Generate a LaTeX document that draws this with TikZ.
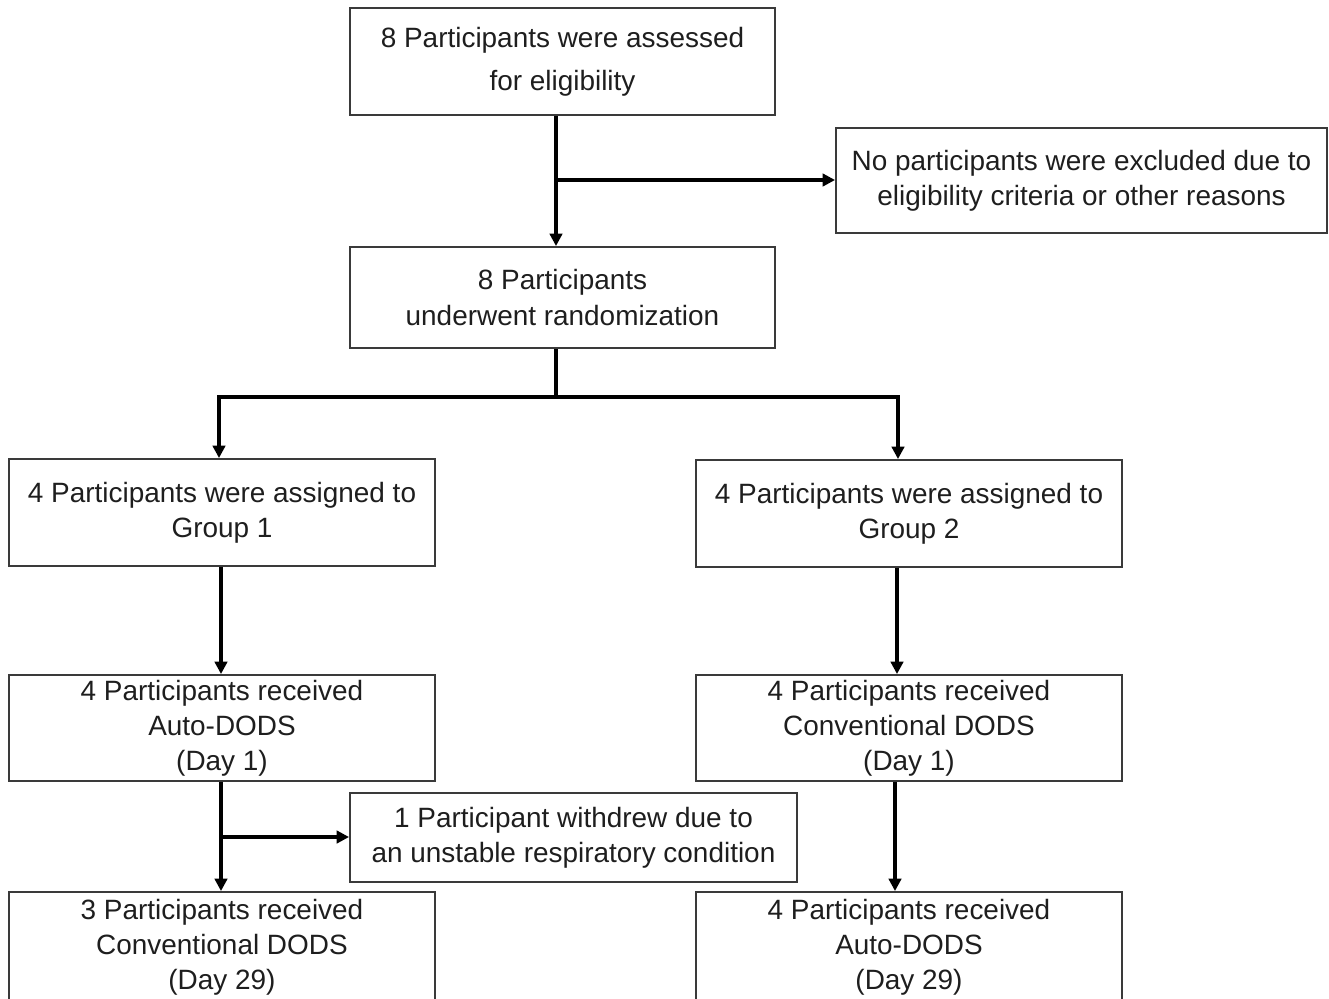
\documentclass[tikz,border=0pt]{standalone}
\usepackage{fontspec}
\setmainfont{Liberation Sans}
\usetikzlibrary{arrows.meta,calc}
\definecolor{boxline}{HTML}{3A3A3A}
\definecolor{txt}{HTML}{1E1E1E}
\tikzset{
  box/.style={draw=boxline, line width=1.1pt, rectangle, align=center, text=txt,
    inner sep=0pt, font=\fontsize{15.9pt}{20pt}\selectfont},
  conn/.style={line width=2.2pt, draw=black},
  arr/.style={conn, -{Triangle[length=7pt,width=7pt]}}
}
\begin{document}
\begin{tikzpicture}[x=0.02cm,y=-0.02cm]
\useasboundingbox (0,0) rectangle (1329,998);
\clip (0,0) rectangle (1329,998);
\node[box, minimum width=425*0.02cm, minimum height=107*0.02cm] (A) at (562.5,61.5)
  {8 Participants were assessed\\[4.5pt]for eligibility};
\node[box, minimum width=491*0.02cm, minimum height=105*0.02cm] (B) at (1081.5,180.5)
  {No participants were excluded due to\\eligibility criteria or other reasons};
\node[box, minimum width=425*0.02cm, minimum height=101*0.02cm] (C) at (562.5,297.5)
  {8 Participants\\underwent randomization};
\node[box, minimum width=426*0.02cm, minimum height=107*0.02cm] (D) at (222,512.5)
  {4 Participants were assigned to\\Group 1};
\node[box, minimum width=426*0.02cm, minimum height=107*0.02cm] (E) at (909,513.5)
  {4 Participants were assigned to\\Group 2};
\node[box, minimum width=426*0.02cm, minimum height=106*0.02cm] (F) at (222,728)
  {4 Participants received\\Auto-DODS\\(Day 1)};
\node[box, minimum width=426*0.02cm, minimum height=106*0.02cm] (G) at (909,728)
  {4 Participants received\\Conventional DODS\\(Day 1)};
\node[box, minimum width=447*0.02cm, minimum height=89*0.02cm] (H) at (573.5,837.5)
  {1 Participant withdrew due to\\an unstable respiratory condition};
\node[box, minimum width=426*0.02cm, minimum height=110*0.02cm] (I) at (222,947)
  {3 Participants received\\Conventional DODS\\(Day 29)};
\node[box, minimum width=426*0.02cm, minimum height=110*0.02cm] (J) at (909,947)
  {4 Participants received\\Auto-DODS\\(Day 29)};
% connectors
\coordinate (s1) at (556,180);
\draw[arr] (A.south -| s1) -- (C.north -| s1);
\draw[arr] (s1) -- (B.west |- s1);
\coordinate (s2) at (556,397);
\coordinate (l2) at (219,397);
\coordinate (r2) at (898,397);
\draw[conn] (C.south -| s2) -- (s2);
\draw[conn, line cap=rect] (l2) -- (r2);
\draw[arr] (l2) -- (D.north -| l2);
\draw[arr] (r2) -- (E.north -| r2);
\coordinate (s3) at (221,620);
\coordinate (s4) at (897,620);
\draw[arr] (D.south -| s3) -- (F.north -| s3);
\draw[arr] (E.south -| s4) -- (G.north -| s4);
\coordinate (s5) at (221,837);
\draw[arr] (F.south -| s5) -- (I.north -| s5);
\draw[arr] (s5) -- (H.west |- s5);
\coordinate (s6) at (895,837);
\draw[arr] (G.south -| s6) -- (J.north -| s6);
\end{tikzpicture}
\end{document}
